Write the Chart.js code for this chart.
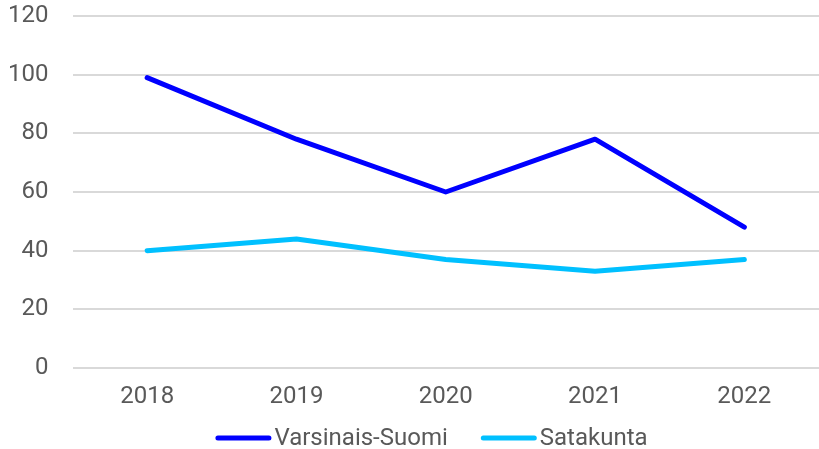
<!DOCTYPE html>
<html>
<head>
<meta charset="utf-8">
<script src="https://cdn.jsdelivr.net/npm/chart.js@4/dist/chart.umd.min.js"></script>
<style>
html,body{margin:0;padding:0;background:#fff;}
#wrap{width:819px;height:449px;position:relative;}
</style>
</head>
<body>
<div id="wrap"><canvas id="c" width="819" height="449"></canvas></div>
<script>
const categories = ["2018", "2019", "2020", "2021", "2022"];
const varsinaisSuomi = [99, 78, 60, 78, 48];
const satakunta = [40, 44, 37, 33, 37];
const seriesNames = ["Varsinais-Suomi", "Satakunta"];
const seriesColors = ["#0000FF", "#00C0FF"];
const yTicks = [0, 20, 40, 60, 80, 100, 120];

const FONT = "Roboto";
const TXT = "#595959";
const FS = 24;

const legendPlugin = {
  id: "customLegend",
  afterDraw(chart) {
    const ctx = chart.ctx;
    ctx.save();
    ctx.font = FS + "px " + FONT;
    ctx.textBaseline = "middle";
    const lineLen = 56, gapText = 3, gapItem = 33;
    const items = chart.data.datasets.map(d => ({label: d.label, color: d.borderColor, w: ctx.measureText(d.label).width}));
    let total = 0;
    items.forEach((it, i) => { total += lineLen + gapText + it.w + (i < items.length - 1 ? gapItem : 0); });
    let x = 431.5 - total / 2;
    const y = 438;
    items.forEach(it => {
      ctx.strokeStyle = it.color;
      ctx.lineWidth = 5;
      ctx.lineCap = "round";
      ctx.beginPath();
      ctx.moveTo(x + 2.5, y);
      ctx.lineTo(x + lineLen - 2.5, y);
      ctx.stroke();
      x += lineLen + gapText;
      ctx.fillStyle = TXT;
      ctx.textAlign = "left";
      ctx.fillText(it.label, x, y + 1);
      x += it.w + gapItem;
    });
    ctx.restore();
  }
};

new Chart(document.getElementById("c"), {
  type: "line",
  data: {
    labels: categories,
    datasets: [
      {label: seriesNames[0], data: varsinaisSuomi, borderColor: seriesColors[0], backgroundColor: seriesColors[0]},
      {label: seriesNames[1], data: satakunta, borderColor: seriesColors[1], backgroundColor: seriesColors[1]}
    ]
  },
  options: {
    responsive: false,
    animation: false,
    events: [],
    layout: {autoPadding: false, padding: {top: 16, left: 0, right: -3, bottom: 39}},
    elements: {
      line: {borderWidth: 5, tension: 0, borderCapStyle: "round", borderJoinStyle: "round", fill: false},
      point: {radius: 0, hoverRadius: 0}
    },
    plugins: {legend: {display: false}, tooltip: {enabled: false}},
    scales: {
      x: {
        offset: true,
        grid: {display: false, drawTicks: false},
        border: {display: false},
        ticks: {color: TXT, font: {family: FONT, size: FS}, padding: 15, maxRotation: 0},
        afterFit(axis) { axis.height = 42; axis.paddingLeft = 0; axis.paddingRight = 0; }
      },
      y: {
        min: 0, max: 120,
        afterBuildTicks(axis) { axis.ticks = yTicks.map(v => ({value: v})); },
        grid: {color: "#D9D9D9", lineWidth: 2, drawTicks: false},
        border: {display: false},
        ticks: {color: TXT, font: {family: FONT, size: FS}, padding: 24},
        afterFit(axis) { axis.width = 72.5; axis.paddingTop = 0; axis.paddingBottom = 0; }
      }
    }
  },
  plugins: [legendPlugin]
});
</script>
</body>
</html>
